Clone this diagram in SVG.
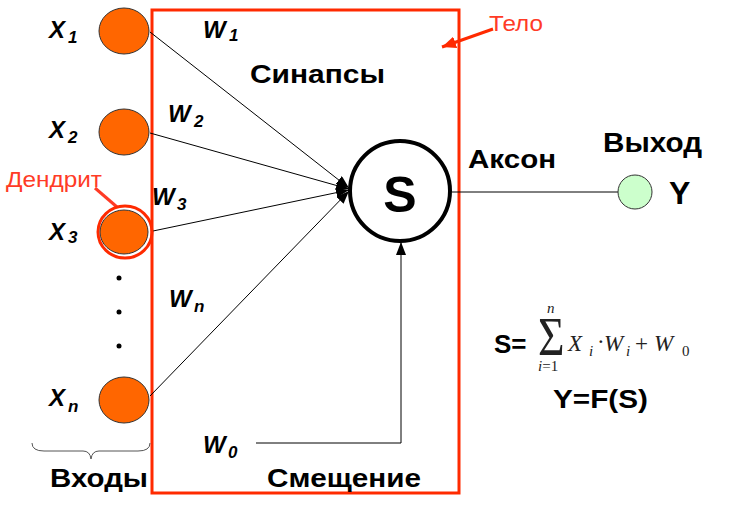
<svg xmlns="http://www.w3.org/2000/svg" width="747" height="507" viewBox="0 0 747 507">
<style>
.lbl{font-family:"Liberation Sans",Arial,sans-serif;font-weight:bold;fill:#000}
.var{font-family:"Liberation Sans",Arial,sans-serif;font-weight:bold;font-style:italic;fill:#000}
.red{font-family:"Liberation Sans",Arial,sans-serif;fill:#ff3b26}
.math{font-family:"Liberation Serif","Times New Roman",serif;fill:#222}
.inp{fill:#ff6600;stroke:#333;stroke-width:1}
.conn{stroke:#000;stroke-width:1;fill:none}
</style>
<defs>
<marker id="ah" viewBox="0 0 13 10" refX="13" refY="5" markerWidth="13" markerHeight="10" markerUnits="userSpaceOnUse" orient="auto">
<path d="M0,0 L13,5 L0,10 Z" fill="#000"/>
</marker>
<marker id="ahr" viewBox="0 0 14 12" refX="14" refY="6" markerWidth="14" markerHeight="12" markerUnits="userSpaceOnUse" orient="auto">
<path d="M0,0 L14,6 L0,12 Z" fill="#ff2a00"/>
</marker>
</defs>
<rect width="747" height="507" fill="#fff"/>

<g id="body">
<rect x="152" y="10" width="307" height="483" fill="none" stroke="#ff2a00" stroke-width="3"/>
<text class="red" x="489" y="31" font-size="22" textLength="54" lengthAdjust="spacingAndGlyphs">Тело</text>
</g>

<g id="connectors">
<line class="conn" x1="150" y1="32" x2="349" y2="188" marker-end="url(#ah)"/>
<line class="conn" x1="150" y1="133" x2="349" y2="189" marker-end="url(#ah)"/>
<line class="conn" x1="153" y1="231" x2="349" y2="190" marker-end="url(#ah)"/>
<line class="conn" x1="150" y1="396" x2="349" y2="191" marker-end="url(#ah)"/>
<polyline class="conn" points="256,443 401,443 401,242" marker-end="url(#ah)"/>
<line class="conn" x1="452" y1="192" x2="618" y2="192" stroke="#333"/>
<line x1="493" y1="29" x2="442" y2="47" stroke="#ff2a00" stroke-width="3" marker-end="url(#ahr)"/>
<line x1="95" y1="188" x2="117" y2="207" stroke="#ff3b26" stroke-width="3"/>
</g>

<g id="x1">
<ellipse class="inp" cx="124" cy="31" rx="25" ry="23"/>
<text class="var" font-size="24"><tspan x="49" y="38">X</tspan><tspan x="68" y="43" font-size="17">1</tspan></text>
</g>
<g id="x2">
<ellipse class="inp" cx="124" cy="132" rx="25" ry="23"/>
<text class="var" font-size="24"><tspan x="49" y="138">X</tspan><tspan x="68" y="143" font-size="17">2</tspan></text>
</g>
<g id="x3">
<ellipse cx="125" cy="232" rx="27" ry="26" fill="none" stroke="#ff2a00" stroke-width="3"/>
<ellipse class="inp" cx="124" cy="232" rx="24" ry="22"/>
<text class="var" font-size="24"><tspan x="49" y="240">X</tspan><tspan x="68" y="243" font-size="17">3</tspan></text>
<text class="red" x="6" y="187" font-size="22" textLength="96" lengthAdjust="spacingAndGlyphs">Дендрит</text>
</g>
<g id="dots">
<circle cx="119" cy="278" r="2.5" fill="#000"/>
<circle cx="119" cy="312" r="2.5" fill="#000"/>
<circle cx="119" cy="346" r="2.5" fill="#000"/>
</g>
<g id="xn">
<ellipse class="inp" cx="124" cy="400" rx="25" ry="23"/>
<text class="var" font-size="24"><tspan x="49" y="406">X</tspan><tspan x="68" y="412" font-size="17">n</tspan></text>
</g>
<g id="inputs-label">
<path d="M32,443 Q32,451 44,451 L83,451 Q90,451 91,459 Q92,451 99,451 L138,451 Q150,451 150,443" fill="none" stroke="#555" stroke-width="1"/>
<text class="lbl" x="50" y="487" font-size="26" textLength="98" lengthAdjust="spacingAndGlyphs">Входы</text>
</g>

<g id="weights">
<text class="var" font-size="24"><tspan x="203" y="38">W</tspan><tspan x="229" y="41" font-size="17">1</tspan></text>
<text class="var" font-size="24"><tspan x="168" y="122">W</tspan><tspan x="194" y="127" font-size="17">2</tspan></text>
<text class="var" font-size="24"><tspan x="152" y="205">W</tspan><tspan x="177" y="210" font-size="17">3</tspan></text>
<text class="var" font-size="24"><tspan x="169" y="307">W</tspan><tspan x="194" y="312" font-size="17">n</tspan></text>
<text class="var" font-size="24"><tspan x="203" y="453">W</tspan><tspan x="228" y="458" font-size="17">0</tspan></text>
<text class="lbl" x="250" y="83" font-size="26" textLength="135" lengthAdjust="spacingAndGlyphs">Синапсы</text>
<text class="lbl" x="267" y="487" font-size="26" textLength="154" lengthAdjust="spacingAndGlyphs">Смещение</text>
</g>

<g id="sum">
<circle cx="400" cy="191" r="50" fill="#fff" stroke="#000" stroke-width="4"/>
<text class="lbl" x="400" y="212" font-size="50" text-anchor="middle">S</text>
</g>

<g id="axon">
<text class="lbl" x="468" y="168" font-size="26" textLength="88" lengthAdjust="spacingAndGlyphs">Аксон</text>
</g>

<g id="output">
<circle cx="635" cy="192" r="17" fill="#ccffcc" stroke="#333" stroke-width="1"/>
<text class="lbl" x="603" y="152" font-size="28" textLength="99" lengthAdjust="spacingAndGlyphs">Выход</text>
<text class="lbl" x="669" y="204" font-size="32">Y</text>
</g>

<g id="formula">
<text class="lbl" x="494" y="353" font-size="26">S=</text>
<text class="math" x="0" y="0" font-size="38" transform="translate(538,355) scale(1.2,1.45)">Σ</text>
<text class="math" x="547" y="313" font-size="15" font-style="italic">n</text>
<text class="math" x="538" y="371" font-size="15"><tspan font-style="italic">i</tspan>=1</text>
<text class="math" font-size="23"><tspan x="568" y="351" font-style="italic">X</tspan><tspan x="589" y="356" font-size="15" font-style="italic">i</tspan><tspan x="597" y="349">·</tspan><tspan x="604" y="351" font-style="italic">W</tspan><tspan x="626" y="356" font-size="15" font-style="italic">i</tspan><tspan x="635" y="351">+</tspan><tspan x="654" y="351" font-style="italic">W</tspan><tspan x="682" y="356" font-size="15">0</tspan></text>
<text class="lbl" x="553" y="408" font-size="26" textLength="95" lengthAdjust="spacingAndGlyphs">Y=F(S)</text>
</g>
</svg>
